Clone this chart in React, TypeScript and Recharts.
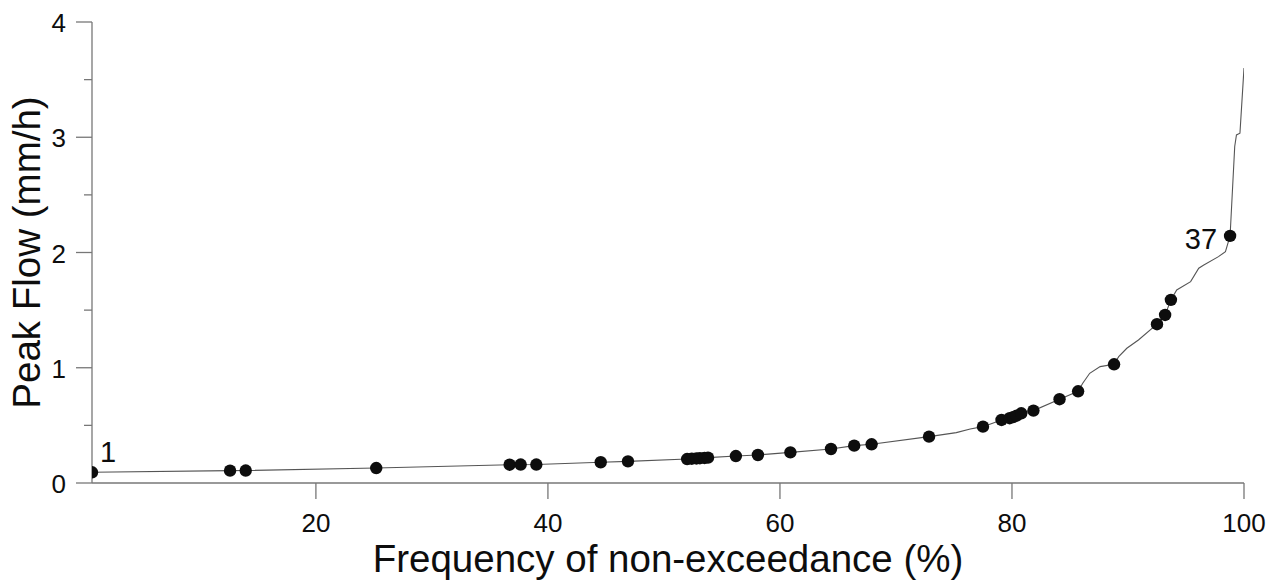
import { ComposedChart, Line, Scatter, XAxis, YAxis, Label } from "recharts";

// axis ticks
const xTicks = [20, 40, 60, 80, 100];
const yTicks = [0, 0.5, 1, 1.5, 2, 2.5, 3, 3.5, 4];

const dotFreq = [
  0.7, 12.6, 13.95, 25.2, 36.7, 37.65, 39.0, 44.55, 46.9,
  52.0, 52.4, 52.8, 53.1, 53.5, 53.8, 56.2, 58.1, 60.9, 64.4, 66.4, 67.9,
  72.85, 77.5, 79.1, 79.8, 80.1, 80.4, 80.8, 81.85, 84.1, 85.7, 88.8,
  92.5, 93.2, 93.7, 98.8,
];
const dotFlow = [
  0.093, 0.107, 0.108, 0.13, 0.159, 0.16, 0.16, 0.18, 0.188,
  0.208, 0.211, 0.213, 0.215, 0.217, 0.22, 0.234, 0.243, 0.266, 0.295, 0.324, 0.336,
  0.402, 0.489, 0.547, 0.562, 0.572, 0.585, 0.605, 0.628, 0.727, 0.796, 1.03,
  1.378, 1.458, 1.589, 2.144,
];

// simulated frequency curve
const curveFreq = [
  0.7, 12.6, 13.95, 25.2, 36.7, 39.0, 44.55, 46.9, 52.0, 53.8, 56.2, 58.1,
  60.9, 64.4, 66.4, 67.9, 72.85, 75.2, 76.4, 77.5, 79.1, 80.8, 81.85, 84.1,
  85.7, 86.1, 86.7, 87.6, 88.8, 89.2, 89.9, 90.9, 92.5, 93.2, 93.7, 94.2,
  95.4, 96.1, 96.5, 97.8, 98.4, 98.8, 99.2, 99.35, 99.65, 100,
];
const curveFlow = [
  0.093, 0.107, 0.108, 0.13, 0.159, 0.16, 0.18, 0.188, 0.208, 0.22, 0.234, 0.243,
  0.266, 0.295, 0.324, 0.336, 0.402, 0.437, 0.469, 0.489, 0.547, 0.605, 0.628, 0.727,
  0.796, 0.865, 0.952, 1.01, 1.03, 1.096, 1.169, 1.241, 1.378, 1.458, 1.589, 1.675,
  1.747, 1.864, 1.89, 1.964, 2.008, 2.144, 2.92, 3.02, 3.035, 3.6,
];

const firstTag = "1";
const lastTag = "37";

const dots = dotFreq.map((x, i) => ({
  x,
  y: dotFlow[i],
  tag: i === 0 ? firstTag : i === dotFreq.length - 1 ? lastTag : "",
}));
const curve = curveFreq.map((x, i) => ({ x, y: curveFlow[i] }));

const AXIS = "#777";
const INK = "#0d0d0d";
const FONT = "'Liberation Sans', Arial, sans-serif";

const YTick = (props: any) => {
  const { x, y, payload } = props;
  const major = Number.isInteger(payload.value);
  return (
    <g>
      <line x1={x - (major ? 16 : 8)} x2={x} y1={y} y2={y} stroke={AXIS} strokeWidth={1.3} />
      {major && (
        <text x={x - 26} y={y} dy={10} textAnchor="end" fontSize={26} fill={INK} fontFamily={FONT}>
          {payload.value}
        </text>
      )}
    </g>
  );
};

const XTick = (props: any) => {
  const { x, y, payload } = props;
  return (
    <g>
      <line x1={x} x2={x} y1={y} y2={y + 16} stroke={AXIS} strokeWidth={1.3} />
      <text x={x} y={y + 49} textAnchor="middle" fontSize={26} fill={INK} fontFamily={FONT}>
        {payload.value}
      </text>
    </g>
  );
};

const Dot = (props: any) => {
  const { cx, cy, payload } = props;
  return (
    <g>
      <circle cx={cx} cy={cy} r={6.2} fill={INK} />
      {payload.tag === firstTag && (
        <text x={cx + 8} y={cy - 10} fontSize={29} fill={INK} fontFamily={FONT}>
          {payload.tag}
        </text>
      )}
      {payload.tag === lastTag && (
        <text x={cx - 13} y={cy + 13} textAnchor="end" fontSize={29} fill={INK} fontFamily={FONT}>
          {payload.tag}
        </text>
      )}
    </g>
  );
};

export default function App() {
  return (
    <div style={{ position: "absolute", left: 0, top: 0, background: "#fff" }}>
      <ComposedChart width={1275} height={581} margin={{ top: 22, right: 31, left: 0, bottom: 0 }}>
        <XAxis
          type="number"
          dataKey="x"
          domain={[0.7, 100]}
          ticks={xTicks}
          interval={0}
          allowDataOverflow
          height={98}
          tickSize={0}
          tickMargin={0}
          tickLine={false}
          tick={<XTick />}
          axisLine={{ stroke: AXIS, strokeWidth: 1.3 }}
        >
          <Label
            content={(p: any) => {
              const vb = p.viewBox;
              return (
                <text x={vb.x + vb.width / 2} y={vb.y + 89} textAnchor="middle" fontSize={38.5} fill={INK} fontFamily={FONT}>
                  Frequency of non-exceedance (%)
                </text>
              );
            }}
          />
        </XAxis>
        <YAxis
          type="number"
          dataKey="y"
          domain={[0, 4]}
          ticks={yTicks}
          interval={0}
          width={92}
          tickSize={0}
          tickMargin={0}
          tickLine={false}
          tick={<YTick />}
          axisLine={{ stroke: AXIS, strokeWidth: 1.3 }}
        >
          <Label
            content={(p: any) => {
              const vb = p.viewBox;
              const cy = vb.y + vb.height / 2;
              return (
                <text
                  x={40}
                  y={cy}
                  transform={`rotate(-90 40 ${cy})`}
                  textAnchor="middle"
                  fontSize={38.5}
                  fill={INK}
                  fontFamily={FONT}
                >
                  Peak Flow (mm/h)
                </text>
              );
            }}
          />
        </YAxis>
        <Line
          data={curve}
          dataKey="y"
          type="linear"
          stroke="#555"
          strokeWidth={1.1}
          dot={false}
          activeDot={false}
          isAnimationActive={false}
        />
        <Scatter data={dots} dataKey="y" shape={<Dot />} isAnimationActive={false} />
      </ComposedChart>
    </div>
  );
}
